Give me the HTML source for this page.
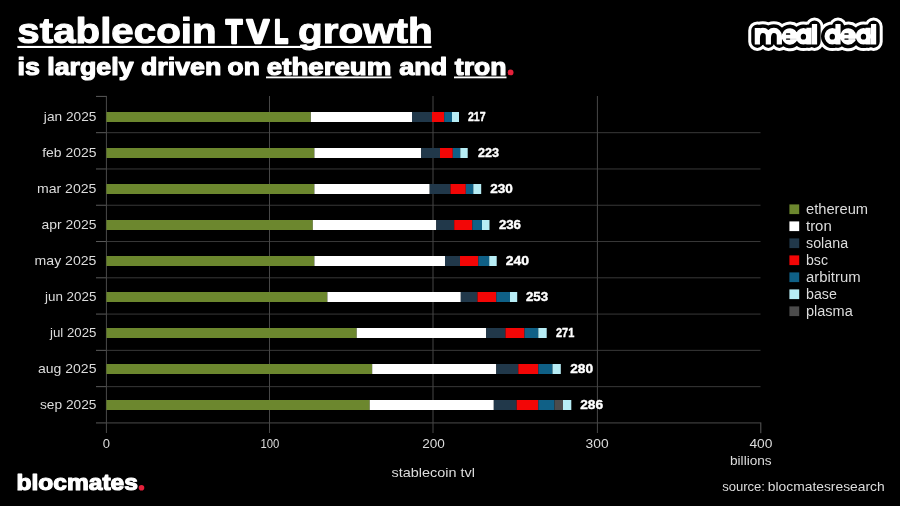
<!DOCTYPE html>
<html lang="en">
<head>
<meta charset="utf-8">
<title>stablecoin TVL growth</title>
<style>
html,body{margin:0;padding:0;background:#000;}
body{width:900px;height:506px;overflow:hidden;}
svg{display:block;}
svg text{font-family:"Liberation Sans",sans-serif;}
.b{font-weight:bold;}
</style>
</head>
<body>
<svg width="900" height="506" viewBox="0 0 900 506" style="will-change:transform">
<rect x="0" y="0" width="900" height="506" fill="#000"/>
<!-- title -->
<text x="17.37" y="43.4" font-size="35.7" fill="#fff" class="b" stroke="#fff" stroke-width="1.0" stroke-linejoin="round" textLength="199.16" lengthAdjust="spacingAndGlyphs">stablecoin</text>
<text x="225.70" y="42.6" font-size="33.4" fill="#fff" class="b" stroke="#fff" stroke-width="2.4" stroke-linejoin="round" textLength="16.61" lengthAdjust="spacingAndGlyphs">T</text>
<text x="246.70" y="42.6" font-size="33.4" fill="#fff" class="b" stroke="#fff" stroke-width="2.4" stroke-linejoin="round" textLength="22.37" lengthAdjust="spacingAndGlyphs">V</text>
<text x="274.33" y="42.6" font-size="33.4" fill="#fff" class="b" stroke="#fff" stroke-width="2.4" stroke-linejoin="round" textLength="13.94" lengthAdjust="spacingAndGlyphs">L</text>
<text x="297.97" y="43.4" font-size="35.7" fill="#fff" class="b" stroke="#fff" stroke-width="1.0" stroke-linejoin="round" textLength="134.82" lengthAdjust="spacingAndGlyphs">growth</text>
<rect x="17.3" y="45.9" width="414.3" height="2.1" fill="#fff"/>
<!-- subtitle -->
<text x="17.50" y="74.5" font-size="24.3" fill="#fff" class="b" stroke="#fff" stroke-width="1.2" stroke-linejoin="round" textLength="203.83" lengthAdjust="spacingAndGlyphs">is largely driven</text>
<text x="227.60" y="74.5" font-size="24.3" fill="#fff" class="b" stroke="#fff" stroke-width="1.2" stroke-linejoin="round" textLength="32.21" lengthAdjust="spacingAndGlyphs">on</text>
<text x="266.85" y="74.5" font-size="24.3" fill="#fff" class="b" stroke="#fff" stroke-width="1.2" stroke-linejoin="round" textLength="124.49" lengthAdjust="spacingAndGlyphs">ethereum</text>
<text x="399.35" y="74.5" font-size="24.3" fill="#fff" class="b" stroke="#fff" stroke-width="1.2" stroke-linejoin="round" textLength="47.98" lengthAdjust="spacingAndGlyphs">and</text>
<text x="454.85" y="74.5" font-size="24.3" fill="#fff" class="b" stroke="#fff" stroke-width="1.2" stroke-linejoin="round" textLength="51.72" lengthAdjust="spacingAndGlyphs">tron</text>
<rect x="266" y="76.5" width="125.5" height="1.8" fill="#fff"/>
<rect x="454" y="76.5" width="52.5" height="1.8" fill="#fff"/>
<circle cx="510.6" cy="72.4" r="2.9" fill="#e5213b"/>
<!-- meal deal sticker logo -->
<defs><path id="md" d="M757.35,41.8 V30.5 M757.35,35.9 A5.5,5.5 0 0 1 768.35,35.9 V41.8 M768.35,35.9 A5.5,5.5 0 0 1 779.35,35.9 V41.8 M784.50,36.6 H795.30 A5.4,5.7 0 1 0 793.90,40.3 M808.60,36.3 A5.2,5.7 0 1 0 798.20,36.3 A5.2,5.7 0 1 0 808.60,36.3 Z M809.00,30.3 V41.8 M814.50,26.6 V41.8 M837.50,36.3 A5.2,5.7 0 1 0 827.10,36.3 A5.2,5.7 0 1 0 837.50,36.3 Z M838.00,26.6 V41.8 M842.90,36.6 H853.70 A5.4,5.7 0 1 0 852.30,40.3 M868.70,36.3 A5.2,5.7 0 1 0 858.30,36.3 A5.2,5.7 0 1 0 868.70,36.3 Z M868.20,30.3 V41.8 M873.60,26.6 V41.8" fill="none"/></defs>
<use href="#md" stroke="#fff" stroke-width="18.2" stroke-linecap="round" stroke-linejoin="round"/>
<use href="#md" stroke="#000" stroke-width="12.2" stroke-linecap="round" stroke-linejoin="round"/>
<use href="#md" stroke="#fff" stroke-width="5.2" stroke-linecap="square" stroke-linejoin="round"/>
<ellipse cx="789.9" cy="36.3" rx="6" ry="6" fill="#fff"/>
<rect x="785.90" y="33.35" width="4.4" height="1.5" rx="0.7" fill="#000"/>
<rect x="785.90" y="38.4" width="4.4" height="1.3" rx="0.6" fill="#000"/>
<rect x="789.90" y="38.8" width="6.5" height="0.5" fill="#b5b5b5"/>
<ellipse cx="848.3" cy="36.3" rx="6" ry="6" fill="#fff"/>
<rect x="844.30" y="33.35" width="4.4" height="1.5" rx="0.7" fill="#000"/>
<rect x="844.30" y="38.4" width="4.4" height="1.3" rx="0.6" fill="#000"/>
<rect x="848.30" y="38.8" width="6.5" height="0.5" fill="#b5b5b5"/>
<ellipse cx="803.4" cy="36.3" rx="5" ry="5" fill="#fff"/>
<ellipse cx="803.4" cy="36.7" rx="2.7" ry="2.9" fill="#000"/>
<ellipse cx="832.3" cy="36.3" rx="5" ry="5" fill="#fff"/>
<ellipse cx="832.3" cy="36.7" rx="2.7" ry="2.9" fill="#000"/>
<ellipse cx="863.5" cy="36.3" rx="5" ry="5" fill="#fff"/>
<ellipse cx="863.5" cy="36.7" rx="2.7" ry="2.9" fill="#000"/>
<!-- grid -->
<rect x="96" y="95.90" width="10.9" height="1" fill="#5a5a5a"/>
<rect x="96" y="132.18" width="10.4" height="1" fill="#5a5a5a"/>
<rect x="106.4" y="132.18" width="654.1" height="1" fill="#383838"/>
<rect x="96" y="168.46" width="10.4" height="1" fill="#5a5a5a"/>
<rect x="106.4" y="168.46" width="654.1" height="1" fill="#383838"/>
<rect x="96" y="204.74" width="10.4" height="1" fill="#5a5a5a"/>
<rect x="106.4" y="204.74" width="654.1" height="1" fill="#383838"/>
<rect x="96" y="241.02" width="10.4" height="1" fill="#5a5a5a"/>
<rect x="106.4" y="241.02" width="654.1" height="1" fill="#383838"/>
<rect x="96" y="277.30" width="10.4" height="1" fill="#5a5a5a"/>
<rect x="106.4" y="277.30" width="654.1" height="1" fill="#383838"/>
<rect x="96" y="313.58" width="10.4" height="1" fill="#5a5a5a"/>
<rect x="106.4" y="313.58" width="654.1" height="1" fill="#383838"/>
<rect x="96" y="349.86" width="10.4" height="1" fill="#5a5a5a"/>
<rect x="106.4" y="349.86" width="654.1" height="1" fill="#383838"/>
<rect x="96" y="386.14" width="10.4" height="1" fill="#5a5a5a"/>
<rect x="106.4" y="386.14" width="654.1" height="1" fill="#383838"/>
<rect x="96" y="422.42" width="10.4" height="1" fill="#5a5a5a"/>
<rect x="106.4" y="422.42" width="654.1" height="1" fill="#4a4a4a"/>
<rect x="269.0" y="96" width="1" height="337" fill="#474747"/>
<rect x="432.5" y="96" width="1" height="337" fill="#474747"/>
<rect x="596.9" y="96" width="1" height="337" fill="#474747"/>
<rect x="105.9" y="96" width="1" height="337" fill="#4a4a4a"/>
<rect x="760.3" y="422.4" width="1" height="10.8" fill="#5a5a5a"/>
<!-- bars -->
<rect x="106.4" y="112" width="204.3" height="10" fill="#6c872e"/>
<rect x="310.8" y="112" width="101.2" height="10" fill="#ffffff"/>
<rect x="412.0" y="112" width="20.0" height="10" fill="#21384a"/>
<rect x="432.0" y="112" width="12.2" height="10" fill="#f30606"/>
<rect x="444.2" y="112" width="7.8" height="10" fill="#0f6086"/>
<rect x="452.0" y="112" width="7.0" height="10" fill="#b7edf5"/>
<text x="43.85" y="121.4" font-size="13" fill="#dcdcdc" textLength="52.59" lengthAdjust="spacingAndGlyphs">jan 2025</text>
<text x="468.00" y="121.2" font-size="12.6" fill="#fff" class="b" stroke="#fff" stroke-width="0.4" stroke-linejoin="round" textLength="17.60" lengthAdjust="spacingAndGlyphs">217</text>
<rect x="106.4" y="148" width="208.0" height="10" fill="#6c872e"/>
<rect x="314.4" y="148" width="106.8" height="10" fill="#ffffff"/>
<rect x="421.2" y="148" width="18.8" height="10" fill="#21384a"/>
<rect x="440.0" y="148" width="12.8" height="10" fill="#f30606"/>
<rect x="452.8" y="148" width="7.5" height="10" fill="#0f6086"/>
<rect x="460.3" y="148" width="7.4" height="10" fill="#b7edf5"/>
<text x="42.20" y="157.4" font-size="13" fill="#dcdcdc" textLength="54.25" lengthAdjust="spacingAndGlyphs">feb 2025</text>
<text x="478.00" y="157.2" font-size="12.6" fill="#fff" class="b" stroke="#fff" stroke-width="0.4" stroke-linejoin="round" textLength="21.00" lengthAdjust="spacingAndGlyphs">223</text>
<rect x="106.4" y="184" width="208.0" height="10" fill="#6c872e"/>
<rect x="314.4" y="184" width="115.3" height="10" fill="#ffffff"/>
<rect x="429.7" y="184" width="20.8" height="10" fill="#21384a"/>
<rect x="450.5" y="184" width="15.3" height="10" fill="#f30606"/>
<rect x="465.8" y="184" width="7.5" height="10" fill="#0f6086"/>
<rect x="473.3" y="184" width="7.9" height="10" fill="#b7edf5"/>
<text x="36.90" y="193.4" font-size="13" fill="#dcdcdc" textLength="59.55" lengthAdjust="spacingAndGlyphs">mar 2025</text>
<text x="490.20" y="193.2" font-size="12.6" fill="#fff" class="b" stroke="#fff" stroke-width="0.4" stroke-linejoin="round" textLength="22.60" lengthAdjust="spacingAndGlyphs">230</text>
<rect x="106.4" y="220" width="206.4" height="10" fill="#6c872e"/>
<rect x="312.8" y="220" width="123.5" height="10" fill="#ffffff"/>
<rect x="436.3" y="220" width="17.9" height="10" fill="#21384a"/>
<rect x="454.2" y="220" width="18.1" height="10" fill="#f30606"/>
<rect x="472.3" y="220" width="9.7" height="10" fill="#0f6086"/>
<rect x="482.0" y="220" width="7.5" height="10" fill="#b7edf5"/>
<text x="41.60" y="229.4" font-size="13" fill="#dcdcdc" textLength="54.85" lengthAdjust="spacingAndGlyphs">apr 2025</text>
<text x="498.90" y="229.2" font-size="12.6" fill="#fff" class="b" stroke="#fff" stroke-width="0.4" stroke-linejoin="round" textLength="22.10" lengthAdjust="spacingAndGlyphs">236</text>
<rect x="106.4" y="256" width="208.0" height="10" fill="#6c872e"/>
<rect x="314.4" y="256" width="130.6" height="10" fill="#ffffff"/>
<rect x="445.0" y="256" width="15.0" height="10" fill="#21384a"/>
<rect x="460.0" y="256" width="18.3" height="10" fill="#f30606"/>
<rect x="478.3" y="256" width="10.9" height="10" fill="#0f6086"/>
<rect x="489.2" y="256" width="7.5" height="10" fill="#b7edf5"/>
<text x="34.60" y="265.4" font-size="13" fill="#dcdcdc" textLength="61.85" lengthAdjust="spacingAndGlyphs">may 2025</text>
<text x="505.70" y="265.2" font-size="12.6" fill="#fff" class="b" stroke="#fff" stroke-width="0.4" stroke-linejoin="round" textLength="23.30" lengthAdjust="spacingAndGlyphs">240</text>
<rect x="106.4" y="292" width="221.0" height="10" fill="#6c872e"/>
<rect x="327.4" y="292" width="133.4" height="10" fill="#ffffff"/>
<rect x="460.8" y="292" width="16.7" height="10" fill="#21384a"/>
<rect x="477.5" y="292" width="18.8" height="10" fill="#f30606"/>
<rect x="496.3" y="292" width="13.7" height="10" fill="#0f6086"/>
<rect x="510.0" y="292" width="7.2" height="10" fill="#b7edf5"/>
<text x="45.03" y="301.4" font-size="13" fill="#dcdcdc" textLength="51.41" lengthAdjust="spacingAndGlyphs">jun 2025</text>
<text x="526.00" y="301.2" font-size="12.6" fill="#fff" class="b" stroke="#fff" stroke-width="0.4" stroke-linejoin="round" textLength="22.10" lengthAdjust="spacingAndGlyphs">253</text>
<rect x="106.4" y="328" width="250.3" height="10" fill="#6c872e"/>
<rect x="356.7" y="328" width="129.5" height="10" fill="#ffffff"/>
<rect x="486.2" y="328" width="19.3" height="10" fill="#21384a"/>
<rect x="505.5" y="328" width="19.0" height="10" fill="#f30606"/>
<rect x="524.5" y="328" width="13.8" height="10" fill="#0f6086"/>
<rect x="538.3" y="328" width="8.4" height="10" fill="#b7edf5"/>
<text x="50.02" y="337.4" font-size="13" fill="#dcdcdc" textLength="46.42" lengthAdjust="spacingAndGlyphs">jul 2025</text>
<text x="556.00" y="337.2" font-size="12.6" fill="#fff" class="b" stroke="#fff" stroke-width="0.4" stroke-linejoin="round" textLength="18.30" lengthAdjust="spacingAndGlyphs">271</text>
<rect x="106.4" y="364" width="265.8" height="10" fill="#6c872e"/>
<rect x="372.2" y="364" width="124.1" height="10" fill="#ffffff"/>
<rect x="496.3" y="364" width="22.0" height="10" fill="#21384a"/>
<rect x="518.3" y="364" width="20.0" height="10" fill="#f30606"/>
<rect x="538.3" y="364" width="14.2" height="10" fill="#0f6086"/>
<rect x="552.5" y="364" width="8.3" height="10" fill="#b7edf5"/>
<text x="38.00" y="373.4" font-size="13" fill="#dcdcdc" textLength="58.45" lengthAdjust="spacingAndGlyphs">aug 2025</text>
<text x="570.20" y="373.2" font-size="12.6" fill="#fff" class="b" stroke="#fff" stroke-width="0.4" stroke-linejoin="round" textLength="22.90" lengthAdjust="spacingAndGlyphs">280</text>
<rect x="106.4" y="400" width="263.3" height="10" fill="#6c872e"/>
<rect x="369.7" y="400" width="124.1" height="10" fill="#ffffff"/>
<rect x="493.8" y="400" width="22.9" height="10" fill="#21384a"/>
<rect x="516.7" y="400" width="21.6" height="10" fill="#f30606"/>
<rect x="538.3" y="400" width="16.2" height="10" fill="#0f6086"/>
<rect x="554.5" y="400" width="8.5" height="10" fill="#4b4b4b"/>
<rect x="563.0" y="400" width="8.3" height="10" fill="#b7edf5"/>
<text x="40.00" y="409.4" font-size="13" fill="#dcdcdc" textLength="56.44" lengthAdjust="spacingAndGlyphs">sep 2025</text>
<text x="580.20" y="409.2" font-size="12.6" fill="#fff" class="b" stroke="#fff" stroke-width="0.4" stroke-linejoin="round" textLength="22.90" lengthAdjust="spacingAndGlyphs">286</text>
<!-- axis labels -->
<text x="106.4" y="448.2" font-size="13" fill="#dcdcdc" text-anchor="middle">0</text>
<text x="260.50" y="448.2" font-size="13" fill="#dcdcdc" textLength="18.90" lengthAdjust="spacingAndGlyphs">100</text>
<text x="422.20" y="448.2" font-size="13" fill="#dcdcdc" textLength="22.64" lengthAdjust="spacingAndGlyphs">200</text>
<text x="585.60" y="448.2" font-size="13" fill="#dcdcdc" textLength="23.04" lengthAdjust="spacingAndGlyphs">300</text>
<text x="749.40" y="448.2" font-size="13" fill="#dcdcdc" textLength="23.04" lengthAdjust="spacingAndGlyphs">400</text>
<text x="730.00" y="465.1" font-size="13" fill="#dcdcdc" textLength="41.68" lengthAdjust="spacingAndGlyphs">billions</text>
<text x="391.60" y="476.5" font-size="13" fill="#dcdcdc" textLength="83.38" lengthAdjust="spacingAndGlyphs">stablecoin tvl</text>
<text x="722.20" y="490.7" font-size="13" fill="#dcdcdc" textLength="42.81" lengthAdjust="spacingAndGlyphs">source:</text>
<text x="767.80" y="490.7" font-size="13" fill="#dcdcdc" textLength="116.84" lengthAdjust="spacingAndGlyphs">blocmatesresearch</text>
<!-- legend -->
<rect x="789.4" y="204.4" width="9.8" height="9.7" fill="#6c872e"/>
<text x="806.00" y="214.0" font-size="14" fill="#dcdcdc" textLength="62.10" lengthAdjust="spacingAndGlyphs">ethereum</text>
<rect x="789.4" y="221.4" width="9.8" height="9.7" fill="#ffffff"/>
<text x="806.00" y="231.0" font-size="14" fill="#dcdcdc" textLength="25.74" lengthAdjust="spacingAndGlyphs">tron</text>
<rect x="789.4" y="238.4" width="9.8" height="9.7" fill="#21384a"/>
<text x="806.00" y="248.0" font-size="14" fill="#dcdcdc" textLength="42.08" lengthAdjust="spacingAndGlyphs">solana</text>
<rect x="789.4" y="255.4" width="9.8" height="9.7" fill="#f30606"/>
<text x="806.00" y="265.0" font-size="14" fill="#dcdcdc" textLength="22.00" lengthAdjust="spacingAndGlyphs">bsc</text>
<rect x="789.4" y="272.4" width="9.8" height="9.7" fill="#0f6086"/>
<text x="806.00" y="282.0" font-size="14" fill="#dcdcdc" textLength="54.60" lengthAdjust="spacingAndGlyphs">arbitrum</text>
<rect x="789.4" y="289.4" width="9.8" height="9.7" fill="#b7edf5"/>
<text x="806.00" y="299.0" font-size="14" fill="#dcdcdc" textLength="30.78" lengthAdjust="spacingAndGlyphs">base</text>
<rect x="789.4" y="306.4" width="9.8" height="9.7" fill="#4b4b4b"/>
<text x="806.00" y="316.0" font-size="14" fill="#dcdcdc" textLength="46.78" lengthAdjust="spacingAndGlyphs">plasma</text>
<!-- blocmates -->
<text x="16.51" y="489.7" font-size="22.5" fill="#fff" class="b" stroke="#fff" stroke-width="1.2" stroke-linejoin="round" textLength="121.35" lengthAdjust="spacingAndGlyphs">blocmates</text>
<circle cx="141.5" cy="487.8" r="2.8" fill="#e5213b"/>
</svg>
</body>
</html>
